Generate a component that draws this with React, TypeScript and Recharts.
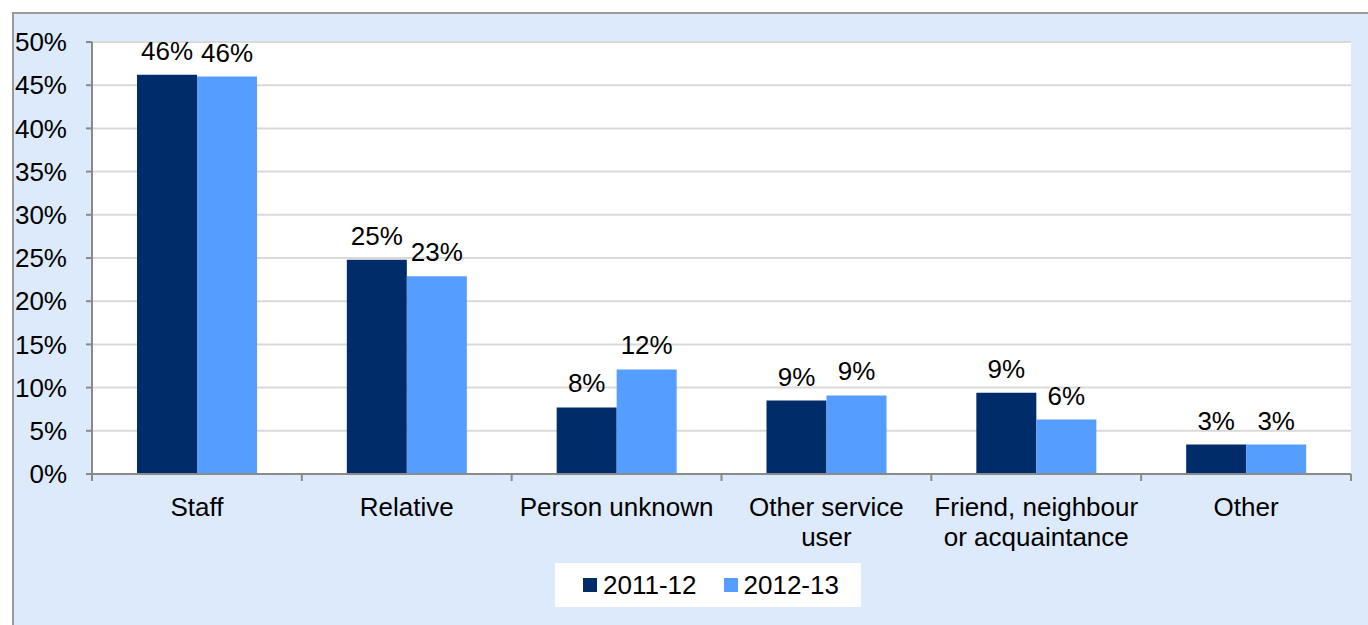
import React from "react";
import { BarChart, Bar, XAxis, YAxis, CartesianGrid, LabelList } from "recharts";

const categories = ["Staff", "Relative", "Person unknown", "Other service user", "Friend, neighbour or acquaintance", "Other"];
const categoryLines = [["Staff"], ["Relative"], ["Person unknown"], ["Other service", "user"], ["Friend, neighbour", "or acquaintance"], ["Other"]];
const seriesNames = ["2011-12", "2012-13"];
const values2011 = [46.2, 24.8, 7.7, 8.5, 9.4, 3.4];
const values2012 = [46.0, 22.9, 12.1, 9.1, 6.3, 3.4];
const yTicks = [0, 5, 10, 15, 20, 25, 30, 35, 40, 45, 50];

const colors = ["#002D69", "#559DFF"];
const FONT = "'Liberation Sans', Arial, sans-serif";
const AXIS = "#8a8a8a";

const data = categories.map((c, i) => ({ name: c, a: values2011[i], b: values2012[i] }));

const CatTick = (props: any) => {
  const { x, y, index, width, visibleTicksCount } = props;
  const lines = categoryLines[index] || [];
  const n = Number(visibleTicksCount) || categories.length;
  const w = Number(width);
  const band = w > 0 ? w / n : 0;
  const axisY = y - 8;
  return (
    <g>
      {band > 0 && <line x1={x - band / 2} x2={x - band / 2} y1={axisY} y2={axisY + 7} stroke={AXIS} strokeWidth={2} />}
      {band > 0 && index === n - 1 && <line x1={x + band / 2} x2={x + band / 2} y1={axisY} y2={axisY + 7} stroke={AXIS} strokeWidth={2} />}
      <text x={x} y={y} textAnchor="middle" fill="#000" fontSize={26} fontFamily={FONT}>
        {lines.map((l, i) => (
          <tspan key={i} x={x} dy={i === 0 ? 34 : 30}>{l}</tspan>
        ))}
      </text>
    </g>
  );
};

export default function App() {
  return (
    <div style={{ position: "absolute", left: 0, top: 0, width: 1368, height: 625, overflow: "hidden", background: "#fff", fontFamily: FONT }}>
      <div style={{ position: "absolute", left: 12, top: 12, width: 1400, height: 700, background: "#DCEAFC", borderLeft: "2px solid #9a9a9a", borderTop: "2px solid #9a9a9a" }} />
      <div style={{ position: "absolute", left: 0, top: 0 }}>
        <BarChart width={1368} height={625} data={data} margin={{ top: 42, right: 17, left: 0, bottom: 0 }} barGap={0} barSize={60}>
          <CartesianGrid vertical={false} stroke="#D9D9D9" strokeWidth={2} fill="#FFFFFF" />
          <XAxis dataKey="name" height={151} tickLine={false} tickSize={6} tickMargin={2} interval={0} tick={<CatTick />} axisLine={{ stroke: AXIS, strokeWidth: 2 }} />
          <YAxis
            domain={[0, 50]}
            ticks={yTicks}
            width={92}
            interval={0}
            tickFormatter={(v: number) => `${v}%`}
            tickSize={6}
            tickMargin={19}
            axisLine={{ stroke: AXIS, strokeWidth: 2 }}
            tickLine={{ stroke: AXIS, strokeWidth: 2 }}
            tick={{ fill: "#000", fontSize: 26, fontFamily: FONT }}
          />
          <Bar dataKey="a" name={seriesNames[0]} fill={colors[0]} isAnimationActive={false}>
            <LabelList dataKey="a" position="top" offset={15} formatter={(v: any) => `${Math.round(Number(v))}%`} fill="#000" fontSize={26} fontFamily={FONT} />
          </Bar>
          <Bar dataKey="b" name={seriesNames[1]} fill={colors[1]} isAnimationActive={false}>
            <LabelList dataKey="b" position="top" offset={15} formatter={(v: any) => `${Math.round(Number(v))}%`} fill="#000" fontSize={26} fontFamily={FONT} />
          </Bar>
        </BarChart>
      </div>
      <div style={{ position: "absolute", left: 555, top: 563, width: 306, height: 44, background: "#fff", display: "flex", alignItems: "center", fontSize: 26, color: "#000" }}>
        {seriesNames.map((n, i) => (
          <div key={n} style={{ display: "flex", alignItems: "center", marginLeft: i === 0 ? 28 : 27 }}>
            <div style={{ width: 14, height: 14, background: colors[i], marginRight: 6 }} />
            <span style={{ lineHeight: "44px" }}>{n}</span>
          </div>
        ))}
      </div>
    </div>
  );
}
